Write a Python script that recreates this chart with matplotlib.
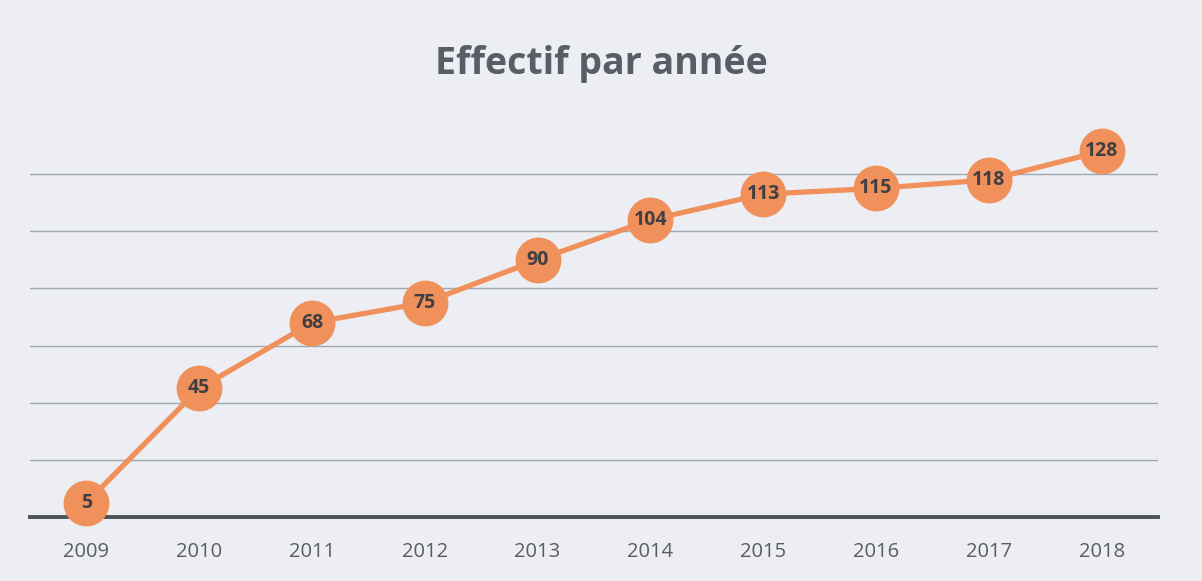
import matplotlib.pyplot as plt

years = ["2009", "2010", "2011", "2012", "2013", "2014", "2015", "2016", "2017", "2018"]
effectif = [5, 45, 68, 75, 90, 104, 113, 115, 118, 128]
grid_values = [20, 40, 60, 80, 100, 120]

bg = "#eceef3"
orange = "#f0915c"

fig = plt.figure(figsize=(12.02, 5.81), dpi=100, facecolor=bg)
ax = fig.add_axes([30/1202, (581-517)/581, (1158-30)/1202, (517-117)/581])
ax.set_facecolor(bg)

x = list(range(len(years)))
ax.set_xlim(-0.5, len(years) - 0.5)
ax.set_ylim(0, 140)

for g in grid_values:
    ax.axhline(g, color="#9ea7b2", lw=1.0, zorder=1)
ax.axhline(0, color="#4d5259", lw=2.8, zorder=2, clip_on=False)

ax.plot(x, effectif, color=orange, lw=3.8, marker="o", markersize=32,
        markerfacecolor=orange, markeredgecolor=orange, zorder=3, clip_on=False)
for xi, v in zip(x, effectif):
    ax.text(xi, v, str(v), ha="center", va="center", fontsize=14,
            fontweight="bold", color="#3f3f44", family="Open Sans", zorder=4)

ax.set_xticks(x)
ax.set_xticklabels(years, fontsize=14.5, color="#595d63", family="Open Sans")
ax.tick_params(axis="x", length=0, pad=18)
ax.set_yticks([])
for s in ax.spines.values():
    s.set_visible(False)

fig.text(0.5, (581-64)/581, "Effectif par année", ha="center", va="center",
         fontsize=27, fontweight="bold", color="#585e66", family="Open Sans")

fig.savefig("out.png", dpi=100, facecolor=bg)
